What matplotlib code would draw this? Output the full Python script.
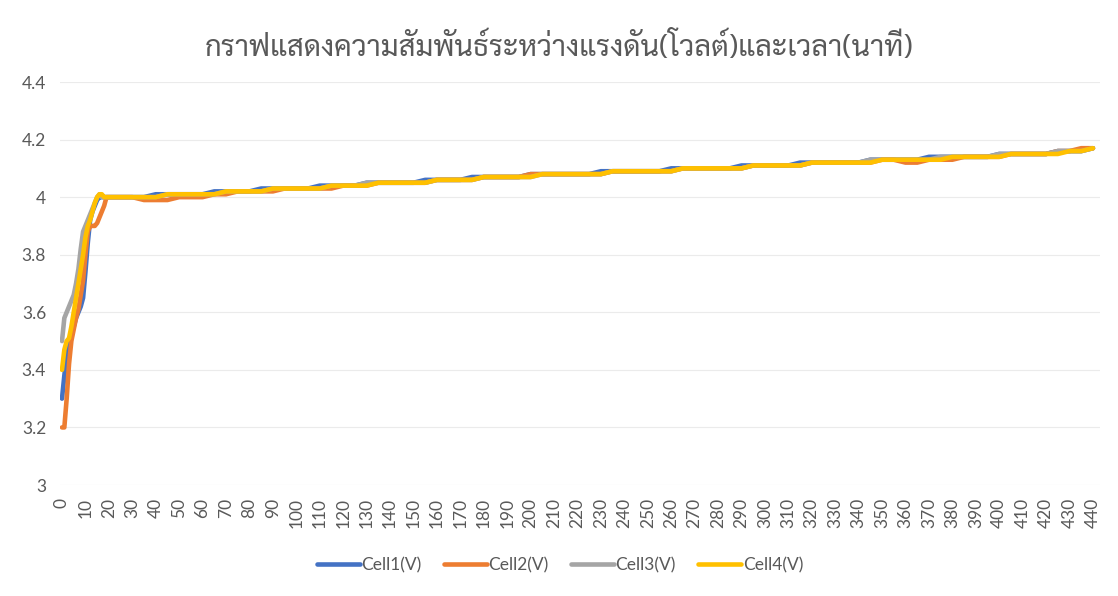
import matplotlib
matplotlib.use("Agg")
import matplotlib.pyplot as plt

# ---- data (minutes, volts) ----
time_min = [0, 1, 2, 3, 4, 5, 6, 7, 8, 9, 10, 11, 12, 13, 14, 15, 16, 17, 18, 19, 20,
            25, 30, 35, 40, 45, 50, 55, 60, 65, 70, 75, 80, 85, 90, 95, 100, 105, 110,
            115, 120, 125, 130, 135, 140, 145, 150, 155, 160, 165, 170, 175, 180, 185,
            190, 195, 200, 205, 210, 215, 220, 225, 230, 235, 240, 245, 250, 255, 260,
            265, 270, 275, 280, 285, 290, 295, 300, 305, 310, 315, 320, 325, 330, 335,
            340, 345, 350, 355, 360, 365, 370, 375, 380, 385, 390, 395, 400, 405, 410,
            415, 420, 425, 430, 435, 440]

cell1 = [3.30, 3.38, 3.45, 3.49, 3.52, 3.55, 3.58, 3.60, 3.62, 3.65, 3.74, 3.84, 3.92,
         3.95, 3.97, 3.99, 4.00, 4.00, 4.00, 4.00, 4.00,
         4.00, 4.00, 4.00, 4.01, 4.01, 4.01, 4.01, 4.01, 4.02, 4.02, 4.02, 4.02, 4.03,
         4.03, 4.03, 4.03, 4.03, 4.04, 4.04, 4.04, 4.04, 4.05, 4.05, 4.05, 4.05, 4.05,
         4.06, 4.06, 4.06, 4.06, 4.07, 4.07, 4.07, 4.07, 4.07, 4.08, 4.08, 4.08, 4.08,
         4.08, 4.08, 4.09, 4.09, 4.09, 4.09, 4.09, 4.09, 4.10, 4.10, 4.10, 4.10, 4.10,
         4.10, 4.11, 4.11, 4.11, 4.11, 4.11, 4.12, 4.12, 4.12, 4.12, 4.12, 4.12, 4.13,
         4.13, 4.13, 4.13, 4.13, 4.14, 4.14, 4.14, 4.14, 4.14, 4.14, 4.15, 4.15, 4.15,
         4.15, 4.15, 4.16, 4.16, 4.16, 4.17]

cell2 = [3.20, 3.20, 3.30, 3.42, 3.50, 3.54, 3.58, 3.61, 3.66, 3.71, 3.80, 3.88, 3.90,
         3.90, 3.90, 3.91, 3.93, 3.95, 3.97, 4.00, 4.00,
         4.00, 4.00, 3.99, 3.99, 3.99, 4.00, 4.00, 4.00, 4.01, 4.01, 4.02, 4.02, 4.02,
         4.02, 4.03, 4.03, 4.03, 4.03, 4.03, 4.04, 4.04, 4.04, 4.05, 4.05, 4.05, 4.05,
         4.05, 4.06, 4.06, 4.06, 4.06, 4.07, 4.07, 4.07, 4.07, 4.08, 4.08, 4.08, 4.08,
         4.08, 4.08, 4.08, 4.09, 4.09, 4.09, 4.09, 4.09, 4.09, 4.10, 4.10, 4.10, 4.10,
         4.10, 4.10, 4.11, 4.11, 4.11, 4.11, 4.11, 4.12, 4.12, 4.12, 4.12, 4.12, 4.12,
         4.13, 4.13, 4.12, 4.12, 4.13, 4.13, 4.13, 4.14, 4.14, 4.14, 4.14, 4.15, 4.15,
         4.15, 4.15, 4.16, 4.16, 4.17, 4.17]

cell3 = [3.50, 3.58, 3.60, 3.62, 3.64, 3.66, 3.70, 3.75, 3.82, 3.88, 3.90, 3.92, 3.94,
         3.96, 3.98, 4.00, 4.01, 4.00, 4.00, 4.00, 4.00,
         4.00, 4.00, 4.00, 4.00, 4.01, 4.01, 4.01, 4.01, 4.01, 4.02, 4.02, 4.02, 4.02,
         4.03, 4.03, 4.03, 4.03, 4.03, 4.04, 4.04, 4.04, 4.05, 4.05, 4.05, 4.05, 4.05,
         4.05, 4.06, 4.06, 4.06, 4.06, 4.07, 4.07, 4.07, 4.07, 4.07, 4.08, 4.08, 4.08,
         4.08, 4.08, 4.08, 4.09, 4.09, 4.09, 4.09, 4.09, 4.09, 4.10, 4.10, 4.10, 4.10,
         4.10, 4.10, 4.11, 4.11, 4.11, 4.11, 4.11, 4.12, 4.12, 4.12, 4.12, 4.12, 4.13,
         4.13, 4.13, 4.13, 4.13, 4.13, 4.14, 4.14, 4.14, 4.14, 4.14, 4.15, 4.15, 4.15,
         4.15, 4.15, 4.16, 4.16, 4.16, 4.17]

cell4 = [3.40, 3.47, 3.50, 3.51, 3.55, 3.60, 3.65, 3.70, 3.75, 3.80, 3.86, 3.90, 3.92,
         3.95, 3.98, 4.00, 4.01, 4.01, 4.00, 4.00, 4.00,
         4.00, 4.00, 4.00, 4.00, 4.01, 4.01, 4.01, 4.01, 4.01, 4.02, 4.02, 4.02, 4.02,
         4.03, 4.03, 4.03, 4.03, 4.03, 4.04, 4.04, 4.04, 4.04, 4.05, 4.05, 4.05, 4.05,
         4.05, 4.06, 4.06, 4.06, 4.06, 4.07, 4.07, 4.07, 4.07, 4.07, 4.08, 4.08, 4.08,
         4.08, 4.08, 4.08, 4.09, 4.09, 4.09, 4.09, 4.09, 4.09, 4.10, 4.10, 4.10, 4.10,
         4.10, 4.10, 4.11, 4.11, 4.11, 4.11, 4.11, 4.12, 4.12, 4.12, 4.12, 4.12, 4.12,
         4.13, 4.13, 4.13, 4.13, 4.13, 4.13, 4.14, 4.14, 4.14, 4.14, 4.14, 4.15, 4.15,
         4.15, 4.15, 4.15, 4.16, 4.16, 4.17]

series_names = ["Cell1(V)", "Cell2(V)", "Cell3(V)", "Cell4(V)"]
x_ticks = list(range(0, 441, 10))
y_ticks = [3.0, 3.2, 3.4, 3.6, 3.8, 4.0, 4.2, 4.4]
y_labels = ["3", "3.2", "3.4", "3.6", "3.8", "4", "4.2", "4.4"]
title = "กราฟแสดงความสัมพันธ์ระหว่างแรงดัน(โวลต์)และเวลา(นาที)"

colors = ["#4472C4", "#ED7D31", "#A5A5A5", "#FFC000"]
text_color = "#595959"

plt.rcParams['font.family'] = ['Lato', 'DejaVu Sans']

fig = plt.figure(figsize=(11.18, 5.96), dpi=100)
ax = fig.add_axes([60/1118, 1 - 485/596, 1040/1118, 403/596])

for vals, name, c in zip([cell1, cell2, cell3, cell4], series_names, colors):
    ax.plot(time_min, vals, color=c, lw=3.3, label=name, solid_capstyle='round')

ax.set_xlim(-0.85, 443)
ax.set_ylim(3.0, 4.4)
ax.set_yticks(y_ticks)
ax.set_yticklabels(y_labels)
ax.set_xticks(x_ticks)
ax.set_xticklabels([str(t) for t in x_ticks], rotation=90)
ax.tick_params(axis='both', length=0, labelsize=12.5, colors=text_color)
ax.tick_params(axis='y', pad=10)
ax.tick_params(axis='x', pad=9)
for s in ax.spines.values():
    s.set_visible(False)
ax.grid(axis='y', color='#EBEBEB', lw=0.8)
ax.set_axisbelow(True)

fig.text(0.5, 1 - 47/596, title, ha='center', va='center', fontsize=21,
         color=text_color, family=['Sarabun', 'DejaVu Sans'])

leg = fig.legend(loc='center', bbox_to_anchor=(560/1118, 1 - 565/596), ncol=4,
                 frameon=False, fontsize=12.5, handlelength=2.45, handletextpad=0.1,
                 columnspacing=1.3)
for t in leg.get_texts():
    t.set_color(text_color)

fig.savefig("out.png", dpi=100)
